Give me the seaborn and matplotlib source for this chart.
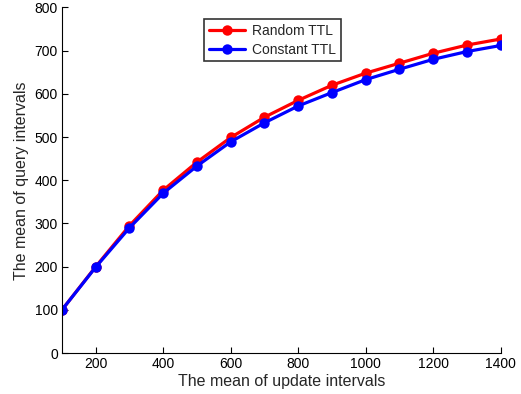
import pandas as pd
import matplotlib
matplotlib.use('Agg')
import matplotlib.pyplot as plt
import seaborn as sns

# values
update_means = [100, 200, 300, 400, 500, 600, 700, 800, 900, 1000, 1100, 1200, 1300, 1400]
random_ttl = [100, 200, 295, 377, 442, 499, 546, 585, 620, 648, 671, 694, 713, 727]
constant_ttl = [100, 199, 290, 370, 433, 489, 533, 572, 603, 633, 657, 680, 698, 712]
series_names = ['Random TTL', 'Constant TTL']
x_ticks = [200, 400, 600, 800, 1000, 1200, 1400]
y_ticks = [0, 100, 200, 300, 400, 500, 600, 700, 800]

df = pd.DataFrame({
    'update': update_means * 2,
    'query': random_ttl + constant_ttl,
    'series': [series_names[0]] * len(update_means) + [series_names[1]] * len(update_means),
})

sns.set_style('ticks')
plt.rcParams['font.family'] = ['Liberation Sans', 'DejaVu Sans']

fig = plt.figure(figsize=(5.21, 3.94), dpi=100)
ax = fig.add_axes([0.119, 0.104, 0.842, 0.877])

sns.lineplot(data=df, x='update', y='query', hue='series', hue_order=series_names,
             palette=['#ff0000', '#0000ff'], marker='o', markersize=7.5,
             markeredgewidth=0, linewidth=2.3, ax=ax)

ax.set_xlim(100, 1400)
ax.set_ylim(0, 800)
ax.set_xticks(x_ticks)
ax.set_yticks(y_ticks)
ax.tick_params(direction='in', length=4, width=0.8, labelsize=10, colors='black', pad=3)
sns.despine(ax=ax)
for s in ['left', 'bottom']:
    ax.spines[s].set_color('black')
    ax.spines[s].set_linewidth(0.8)

ax.set_xlabel('The mean of update intervals', fontsize=11.5, labelpad=2)
ax.set_ylabel('The mean of query intervals', fontsize=11.5, labelpad=4)

leg = ax.legend(loc='upper center', bbox_to_anchor=(0.479, 0.967), fontsize=10,
                frameon=True, fancybox=False, borderpad=0.35, handlelength=2.6,
                handletextpad=0.5, labelspacing=0.35, borderaxespad=0)
leg.get_frame().set_edgecolor('black')
leg.get_frame().set_linewidth(1.2)
leg.set_title(None)

fig.savefig('out.png', dpi=100)
